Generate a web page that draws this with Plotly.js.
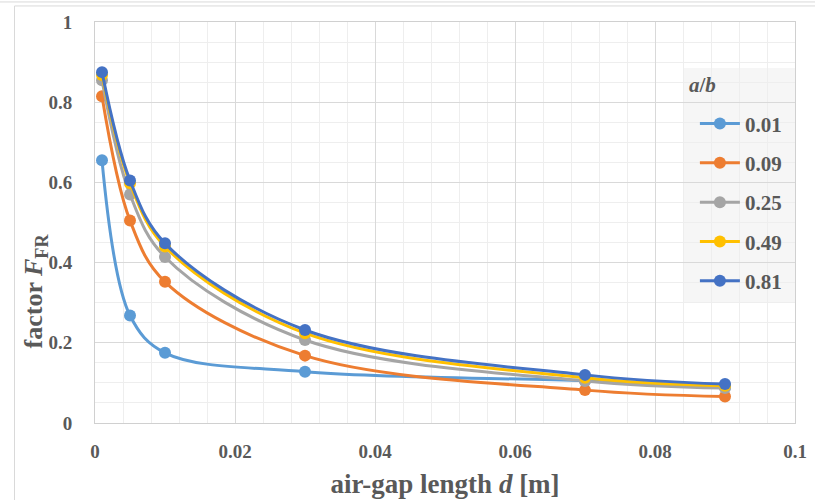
<!DOCTYPE html>
<html><head><meta charset="utf-8">
<script src="https://cdn.plot.ly/plotly-3.0.1.min.js"></script>
<style>body{margin:0;background:#fff}#c{width:815px;height:500px}</style>
</head><body><div id="c"></div>
<script>
const gapLength = [0.001, 0.005, 0.01, 0.03, 0.07, 0.09];
const ratioLabels = ['0.01', '0.09', '0.25', '0.49', '0.81'];
const f001 = [0.655, 0.268, 0.175, 0.128, 0.105, 0.089];
const f009 = [0.815, 0.505, 0.352, 0.168, 0.082, 0.066];
const f025 = [0.855, 0.570, 0.414, 0.207, 0.105, 0.087];
const f049 = [0.868, 0.598, 0.440, 0.224, 0.113, 0.093];
const f081 = [0.875, 0.605, 0.448, 0.232, 0.120, 0.097];
const xTickVals = [0, 0.02, 0.04, 0.06, 0.08, 0.1];
const xTickText = ['0', '0.02', '0.04', '0.06', '0.08', '0.1'];
const yTickVals = [0, 0.2, 0.4, 0.6, 0.8, 1];
const yTickText = ['0', '0.2', '0.4', '0.6', '0.8', '1'];

const seriesValues = [f001, f009, f025, f049, f081];
const colors = ['#5B9BD5', '#ED7D31', '#A5A5A5', '#FFC000', '#4472C4'];
const serif = 'Liberation Serif, Times New Roman, serif';

const traces = seriesValues.map((vals, i) => ({
  x: gapLength, y: vals, type: 'scatter', mode: 'lines+markers',
  name: ratioLabels[i], legendgroup: 'g' + i,
  line: {color: colors[i], width: 3, shape: 'spline', smoothing: 1},
  marker: {color: colors[i], size: 12}
}));

const layout = {
  width: 815, height: 500,
  margin: {l: 95, r: 20, t: 22, b: 77},
  paper_bgcolor: '#fff', plot_bgcolor: '#fff',
  font: {family: serif, color: '#595959'},
  showlegend: true,
  legend: {
    x: 0.857, y: 0.797, xanchor: 'left', yanchor: 'top',
    bgcolor: 'rgba(0,0,0,0)', borderwidth: 0,
    font: {family: serif, size: 21, color: '#595959', weight: 'bold'},
    traceorder: 'grouped', tracegroupgap: 9,
    itemwidth: 40
  },
  xaxis: {
    range: [0, 0.1], tickvals: xTickVals, ticktext: xTickText,
    showgrid: true, gridcolor: '#d9d9d9', gridwidth: 1,
    minor: {dtick: 0.004, showgrid: true, gridcolor: '#eeeeee', gridwidth: 1},
    showline: true, linecolor: '#d0d0d0', mirror: true, linewidth: 1,
    zeroline: false, ticks: '',
    ticklabelstandoff: 11,
    tickfont: {family: serif, size: 19, color: '#595959', weight: 'bold'},
    title: {text: '<b>air-gap length <i>d</i> [m]</b>', standoff: 13,
            font: {family: serif, size: 27, color: '#595959'}}
  },
  yaxis: {
    range: [0, 1], tickvals: yTickVals, ticktext: yTickText,
    showgrid: true, gridcolor: '#d9d9d9', gridwidth: 1,
    minor: {dtick: 0.05, showgrid: true, gridcolor: '#eeeeee', gridwidth: 1},
    showline: true, linecolor: '#d0d0d0', mirror: true, linewidth: 1,
    zeroline: false, ticks: '',
    ticklabelstandoff: 18,
    tickfont: {family: serif, size: 19, color: '#595959', weight: 'bold'}
  },
  annotations: [{
    xref: 'paper', yref: 'paper', x: -0.086, y: 0.33, xanchor: 'center', yanchor: 'middle',
    text: '<b>factor <i>F</i><sub>FR</sub></b>', textangle: -90, showarrow: false,
    font: {family: serif, size: 26, color: '#595959'}
  }, {
    xref: 'paper', yref: 'paper', x: 0.84, y: 0.843, xanchor: 'left', yanchor: 'middle',
    xshift: 4,
    text: '<b><i>a</i>/<i>b</i></b>', showarrow: false,
    font: {family: serif, size: 21, color: '#595959'}
  }],
  shapes: [
    {type: 'rect', xref: 'paper', yref: 'paper', x0: 0.84, x1: 1.0, y0: 0.302, y1: 0.885,
     fillcolor: 'rgba(238,238,238,0.55)', line: {width: 0}, layer: 'below'},
    {type: 'line', xref: 'paper', yref: 'paper', x0: -0.2, x1: 1.1, y0: 1.05, y1: 1.05, line: {color: '#d9d9d9', width: 1}},
    {type: 'line', xref: 'paper', yref: 'paper', x0: -0.115, x1: 1.1, y0: 1.04, y1: 1.04, line: {color: '#d9d9d9', width: 1}},
    {type: 'line', xref: 'paper', yref: 'paper', x0: -0.115, x1: -0.115, y0: 1.04, y1: -0.3, line: {color: '#d9d9d9', width: 1}}
  ]
};

Plotly.newPlot('c', traces, layout, {displayModeBar: false, staticPlot: true});
</script></body></html>
